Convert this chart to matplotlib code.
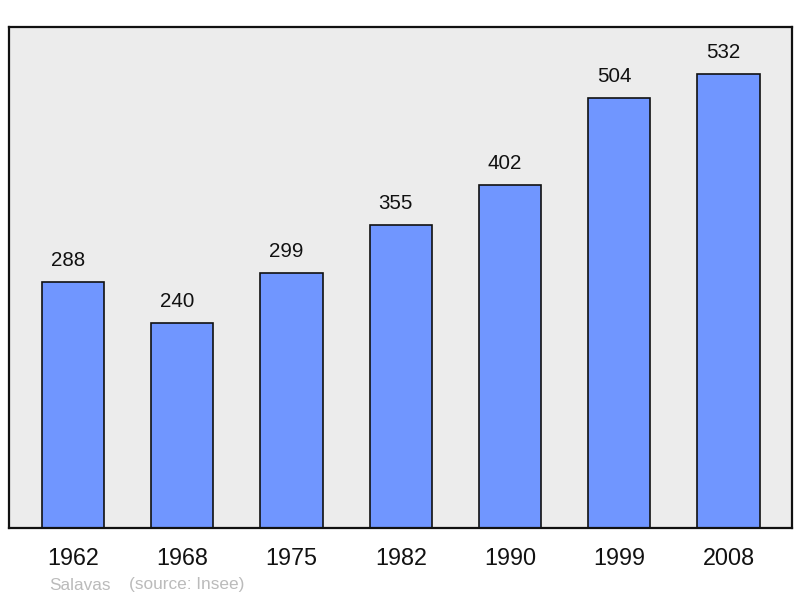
import matplotlib
matplotlib.use("Agg")
import matplotlib.pyplot as plt

years = ["1962", "1968", "1975", "1982", "1990", "1999", "2008"]
population = [288, 240, 299, 355, 402, 504, 532]
commune = "Salavas"
source = "(source: Insee)"

plt.rcParams['font.family'] = ['Liberation Sans', 'DejaVu Sans']

fig = plt.figure(figsize=(8, 5.98), dpi=100)
ax = fig.add_axes([9/800, 70/598, 783/800, 501/598])
ax.set_facecolor('#ececec')
x = list(range(len(years)))
ax.bar(x, population, width=0.57, color='#7096ff', edgecolor='#111111', linewidth=1.2, zorder=2)
for xi, v in zip(x, population):
    ax.annotate(str(v), (xi, v), xytext=(-3.6, 15.5), textcoords='offset points',
                ha='center', va='center', fontsize=14.8, color='#111111')
ax.set_xlim(-0.585, 6.58)
ax.set_ylim(0, 586.6)
ax.set_xticks(x)
ax.set_xticklabels(years, fontsize=16.8, color='#111111')
ax.tick_params(axis='x', length=0, pad=14)
ax.set_yticks([])
for s in ax.spines.values():
    s.set_linewidth(1.6)
    s.set_color('#111111')
fig.text(49/800, 1 - 585/598, commune, fontsize=12.4, color='#bbbbbb', va='center', ha='left')
fig.text(129/800, 1 - 585/598, source, fontsize=12.4, color='#bbbbbb', va='center', ha='left')
fig.savefig("out.png", dpi=100)
